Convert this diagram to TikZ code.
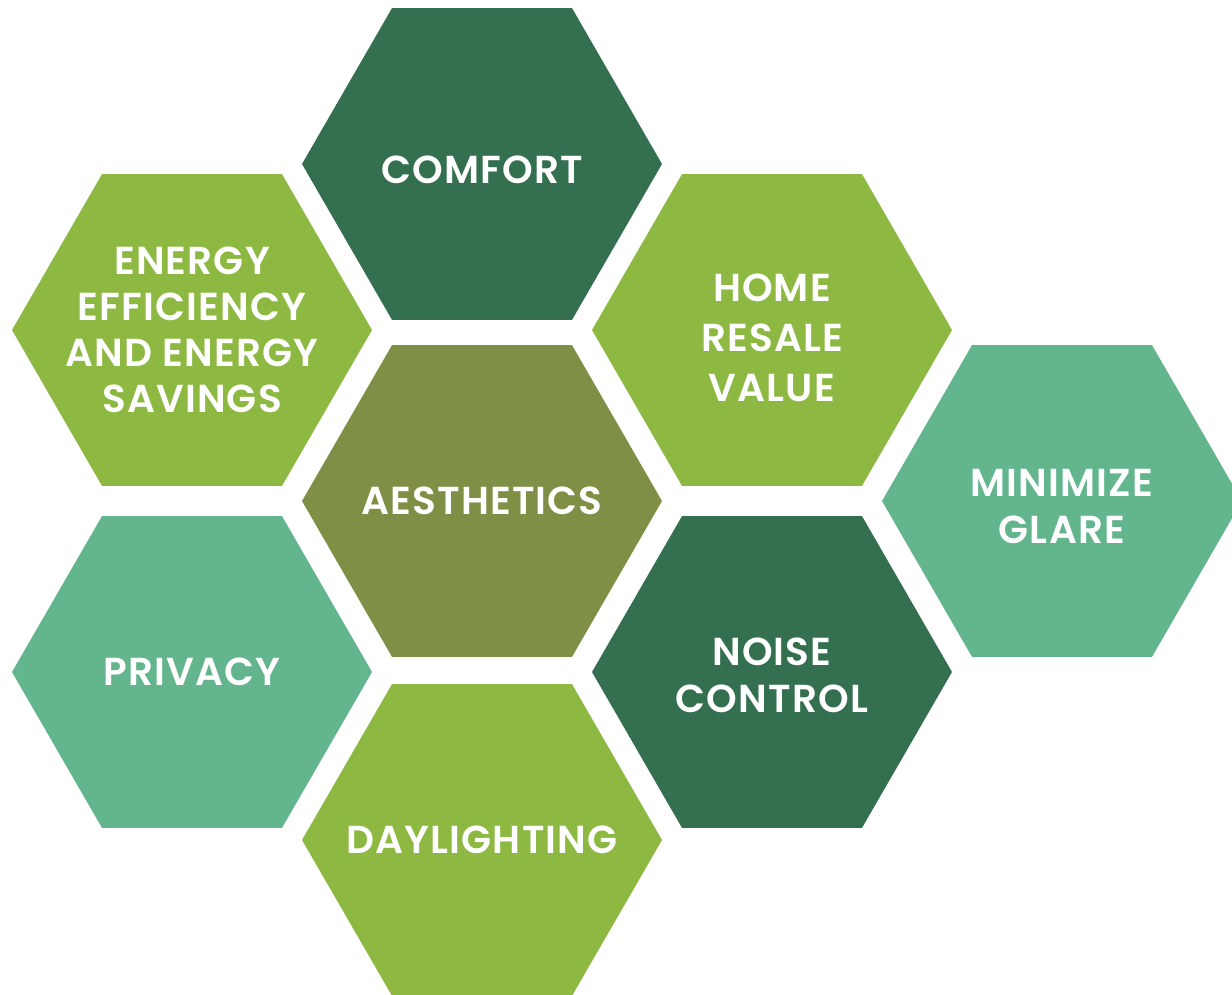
\documentclass[tikz,border=0pt]{standalone}
\usepackage{fontspec}
\newfontfamily\cellfont{Poppins}[UprightFont={* SemiBold}, LetterSpace=3]
\usetikzlibrary{shapes.geometric}

\definecolor{darkleaf}{RGB}{52,112,80}
\definecolor{freshleaf}{RGB}{141,185,66}
\definecolor{oliveleaf}{RGB}{128,143,70}
\definecolor{tealleaf}{RGB}{98,181,140}

\tikzset{
    hexcell/.style={regular polygon, regular polygon sides=6, minimum size=360pt,
        inner sep=0pt, outer sep=0pt, draw=none},
    celltext/.style={text=white, font=\cellfont\fontsize{39}{47}\selectfont,
        align=center, inner sep=0pt}
}

\begin{document}
\begin{tikzpicture}[x=1pt, y=-1pt]
    \useasboundingbox (0,0) rectangle (1232,995);
    \clip (0,0) rectangle (1232,995);
    % middle column
    \node[hexcell, fill=darkleaf, label={[celltext, yshift=-6pt]center:COMFORT}] (comfort) at (482,164) {};
    \node[hexcell, fill=oliveleaf, label={[celltext]center:AESTHETICS}] (aesthetics) at (482,501) {};
    \node[hexcell, fill=freshleaf, label={[celltext]center:DAYLIGHTING}] (daylight) at (482,840) {};
    % left column
    \node[hexcell, fill=freshleaf, label={[celltext, font=\cellfont\fontsize{39}{46}\selectfont]center:ENERGY\\EFFICIENCY\\AND ENERGY\\SAVINGS}] (energy) at (192,330) {};
    \node[hexcell, fill=tealleaf, label={[celltext]center:PRIVACY}] (privacy) at (192,672) {};
    % right column
    \node[hexcell, fill=freshleaf, label={[celltext, yshift=-8pt, font=\cellfont\fontsize{39}{50}\selectfont]center:HOME\\RESALE\\VALUE}] (resale) at (772,330) {};
    \node[hexcell, fill=darkleaf, label={[celltext, yshift=-3pt]center:NOISE\\CONTROL}] (noise) at (772,672) {};
    \node[hexcell, fill=tealleaf, label={[celltext, yshift=-5pt]center:MINIMIZE\\GLARE}] (glare) at (1062,501) {};
\end{tikzpicture}
\end{document}
